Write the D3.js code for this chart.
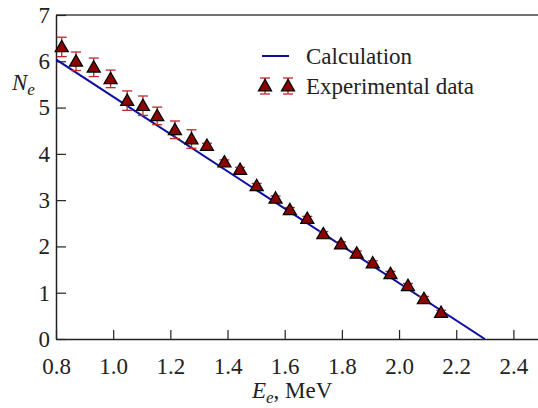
<!DOCTYPE html>
<html>
<head>
<script src="https://cdn.jsdelivr.net/npm/d3@7"></script>
<style>
  body { margin: 0; background: #fff; }
  svg text { font-family: "Liberation Serif", "Times New Roman", Times, serif !important; fill: #222; }
</style>
</head>
<body>
<div id="chart"></div>
<script>
// experimental points (E in MeV, N_e, error)
var energy = [0.820, 0.870, 0.932, 0.991, 1.049, 1.104, 1.154, 1.216, 1.274, 1.328,
              1.389, 1.444, 1.502, 1.568, 1.618, 1.679, 1.735, 1.797, 1.852, 1.908,
              1.970, 2.031, 2.087, 2.147];
var counts = [6.31, 6.00, 5.87, 5.62, 5.15, 5.04, 4.82, 4.52, 4.32, 4.18,
              3.82, 3.66, 3.31, 3.04, 2.79, 2.60, 2.27, 2.05, 1.85, 1.64,
              1.41, 1.15, 0.87, 0.57];
var errors = [0.21, 0.20, 0.20, 0.19, 0.21, 0.21, 0.19, 0.19, 0.20, 0.05,
              0.05, 0.05, 0.05, 0.05, 0.05, 0.05, 0.05, 0.05, 0.05, 0.05,
              0.05, 0.05, 0.05, 0.05];
// calculation line
var calcE = [0.8, 2.30];
var calcN = [6.04, 0];
var xTicks = [0.8, 1.0, 1.2, 1.4, 1.6, 1.8, 2.0, 2.2, 2.4];
var yTicks = [0, 1, 2, 3, 4, 5, 6, 7];

var W = 538, H = 408;
var svg = d3.select("#chart").append("svg").attr("width", W).attr("height", H)
  .attr("font-family", "Liberation Serif");

var x = d3.scaleLinear().domain([0.8, 2.5]).range([56, 542]);
var y = d3.scaleLinear().domain([0, 7]).range([339, 15]);

// frame (top line, right edge falls outside the picture)
svg.append("line").attr("x1", x(0.8)).attr("x2", W).attr("y1", y(7)).attr("y2", y(7))
  .attr("stroke", "#444").attr("stroke-width", 1.5);

// axes with inward ticks
var xAxis = svg.append("g").attr("transform", "translate(0," + y(0) + ")")
  .call(d3.axisBottom(x).tickValues(xTicks).tickSizeInner(-9).tickSizeOuter(0)
        .tickFormat(d3.format(".1f")));
xAxis.attr("font-family", null).attr("font-size", null);
xAxis.select(".domain").attr("stroke", "#222").attr("stroke-width", 1.5);
xAxis.selectAll(".tick line").attr("stroke", "#222").attr("stroke-width", 1.2);
xAxis.selectAll(".tick text").attr("y", 19).attr("dy", "0.71em").attr("fill", "#222")
  .style("font-size", "23px");

var yAxis = svg.append("g").attr("transform", "translate(" + x(0.8) + ",0)")
  .call(d3.axisLeft(y).tickValues(yTicks).tickSizeInner(-10).tickSizeOuter(0)
        .tickFormat(d3.format("d")));
yAxis.attr("font-family", null).attr("font-size", null);
yAxis.select(".domain").attr("stroke", "#222").attr("stroke-width", 1.5);
yAxis.selectAll(".tick line").attr("stroke", "#222").attr("stroke-width", 1.2);
yAxis.selectAll(".tick text").attr("x", -6).attr("fill", "#222")
  .style("font-size", "23px");

// clip for the line so it stops at the axes
svg.append("clipPath").attr("id", "plotclip").append("rect")
  .attr("x", x(0.8)).attr("y", y(7)).attr("width", W - x(0.8)).attr("height", y(0) - y(7));

var calc = calcE.map(function (e, i) { return [e, calcN[i]]; });
svg.append("path").datum(calc)
  .attr("clip-path", "url(#plotclip)")
  .attr("d", d3.line().x(function (d) { return x(d[0]); }).y(function (d) { return y(d[1]); }))
  .attr("fill", "none").attr("stroke", "#1010a0").attr("stroke-width", 2);

var pts = energy.map(function (e, i) { return { e: e, n: counts[i], err: errors[i] }; });
var errColor = "#c0282a";
var capW = 5;

var g = svg.append("g");
var pt = g.selectAll("g.pt").data(pts).enter().append("g").attr("class", "pt");
pt.append("line")
  .attr("x1", function (d) { return x(d.e); }).attr("x2", function (d) { return x(d.e); })
  .attr("y1", function (d) { return y(d.n + d.err); }).attr("y2", function (d) { return y(d.n - d.err); })
  .attr("stroke", errColor).attr("stroke-width", 1.3);
[1, -1].forEach(function (s) {
  pt.append("line")
    .attr("x1", function (d) { return x(d.e) - capW; }).attr("x2", function (d) { return x(d.e) + capW; })
    .attr("y1", function (d) { return y(d.n + s * d.err); }).attr("y2", function (d) { return y(d.n + s * d.err); })
    .attr("stroke", errColor).attr("stroke-width", 1.3);
});
var tri = d3.symbol().type(d3.symbolTriangle).size(75);
pt.append("path")
  .attr("d", tri)
  .attr("transform", function (d) { return "translate(" + x(d.e) + "," + (y(d.n) + 1) + ")"; })
  .attr("fill", "#8b0000").attr("stroke", "#000").attr("stroke-width", 1.2);

// axis titles
var yl = svg.append("text").attr("x", 12).attr("y", 90).style("font-size", "23px");
yl.append("tspan").style("font-style", "italic").text("N");
yl.append("tspan").style("font-style", "italic").style("font-size", "17px").attr("dy", 5).text("e");

var xl = svg.append("text").attr("x", 252).attr("y", 398).style("font-size", "23px");
xl.append("tspan").style("font-style", "italic").text("E");
xl.append("tspan").style("font-style", "italic").style("font-size", "17px").attr("dy", 5).text("e");
xl.append("tspan").attr("dy", -5).text(", MeV");

// legend
var lg = svg.append("g");
lg.append("line").attr("x1", 262).attr("x2", 289).attr("y1", 56).attr("y2", 56)
  .attr("stroke", "#1010a0").attr("stroke-width", 2);
lg.append("text").attr("x", 306).attr("y", 64).style("font-size", "23px").text("Calculation");
[265, 288].forEach(function (cx) {
  var cy = 86;
  lg.append("line").attr("x1", cx).attr("x2", cx).attr("y1", cy - 8).attr("y2", cy + 8)
    .attr("stroke", errColor).attr("stroke-width", 1.3);
  lg.append("line").attr("x1", cx - 5).attr("x2", cx + 5).attr("y1", cy - 8).attr("y2", cy - 8)
    .attr("stroke", errColor).attr("stroke-width", 1.3);
  lg.append("line").attr("x1", cx - 5).attr("x2", cx + 5).attr("y1", cy + 8).attr("y2", cy + 8)
    .attr("stroke", errColor).attr("stroke-width", 1.3);
  lg.append("path").attr("d", tri).attr("transform", "translate(" + cx + "," + (cy + 1) + ")")
    .attr("fill", "#8b0000").attr("stroke", "#000").attr("stroke-width", 1.2);
});
lg.append("text").attr("x", 306).attr("y", 94).style("font-size", "23px").text("Experimental data");
</script>
</body>
</html>
